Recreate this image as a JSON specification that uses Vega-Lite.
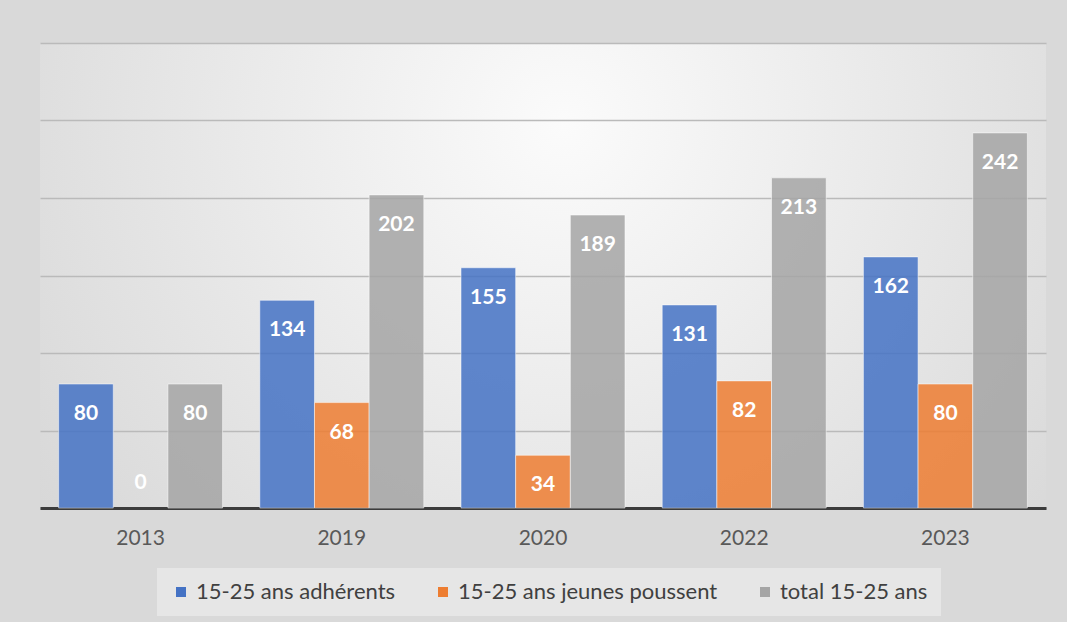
{
  "$schema": "https://vega.github.io/schema/vega-lite/v6.json",
  "width": 1006,
  "height": 465,
  "autosize": {"type": "none"},
  "padding": {"left": 40, "top": 43, "right": 21, "bottom": 114},
  "background": "#d9d9d9",
  "config": {
    "view": {
      "stroke": null,
      "fill": {
        "gradient": "radial",
        "x1": 0.52, "y1": 0.35, "r1": 0,
        "x2": 0.52, "y2": 0.35, "r2": 0.75,
        "stops": [
          {"offset": 0, "color": "#fbfbfb"},
          {"offset": 1, "color": "#d2d2d2"}
        ]
      }
    },
    "font": "Lato"
  },
  "data": {
    "values": [
      {"year": "2013", "series": "15-25 ans adhérents", "value": 80},
      {"year": "2013", "series": "15-25 ans jeunes poussent", "value": 0},
      {"year": "2013", "series": "total 15-25 ans", "value": 80},
      {"year": "2019", "series": "15-25 ans adhérents", "value": 134},
      {"year": "2019", "series": "15-25 ans jeunes poussent", "value": 68},
      {"year": "2019", "series": "total 15-25 ans", "value": 202},
      {"year": "2020", "series": "15-25 ans adhérents", "value": 155},
      {"year": "2020", "series": "15-25 ans jeunes poussent", "value": 34},
      {"year": "2020", "series": "total 15-25 ans", "value": 189},
      {"year": "2022", "series": "15-25 ans adhérents", "value": 131},
      {"year": "2022", "series": "15-25 ans jeunes poussent", "value": 82},
      {"year": "2022", "series": "total 15-25 ans", "value": 213},
      {"year": "2023", "series": "15-25 ans adhérents", "value": 162},
      {"year": "2023", "series": "15-25 ans jeunes poussent", "value": 80},
      {"year": "2023", "series": "total 15-25 ans", "value": 242}
    ]
  },
  "encoding": {
    "x": {
      "field": "year", "type": "nominal",
      "scale": {"paddingInner": 0.185, "paddingOuter": 0.0925},
      "axis": {
        "title": null, "labelAngle": 0, "ticks": false,
        "domainColor": "#3c3c3c", "domainWidth": 3,
        "labelFontSize": 21, "labelColor": "#595959", "labelPadding": 19,
        "labelFont": "Lato"
      }
    },
    "xOffset": {"field": "series", "type": "nominal", "scale": {"paddingInner": 0, "paddingOuter": 0}},
    "y": {
      "field": "value", "type": "quantitative",
      "scale": {"domain": [0, 300], "nice": false},
      "axis": {
        "title": null, "labels": false, "ticks": false, "domain": false,
        "values": [0, 50, 100, 150, 200, 250, 300],
        "gridColor": "#bababa", "gridWidth": 1.3
      }
    }
  },
  "layer": [
    {
      "transform": [{"filter": "datum.value > 0"}],
      "mark": {"type": "bar", "fillOpacity": 0.85, "stroke": "#ffffff", "strokeOpacity": 0.5, "strokeWidth": 1},
      "encoding": {
        "color": {
          "field": "series", "type": "nominal",
          "scale": {"domain": ["15-25 ans adhérents", "15-25 ans jeunes poussent", "total 15-25 ans"], "range": ["#4472C4", "#ED7D31", "#A5A5A5"]},
          "legend": {
            "title": null, "orient": "none", "direction": "horizontal",
            "legendX": 117, "legendY": 525,
            "symbolType": "square", "symbolSize": 100, "symbolStrokeWidth": 0,
            "labelFontSize": 22, "labelColor": "#404040", "labelFont": "Lato",
            "labelLimit": 500,
            "columnPadding": 36, "labelOffset": 4,
            "fillColor": "#e6e6e6", "padding": 13
          }
        }
      }
    },
    {
      "transform": [{"filter": "datum.value > 0"}],
      "mark": {"type": "text", "baseline": "middle", "dy": 30, "color": "white", "fontWeight": "bold", "fontSize": 21, "font": "Lato"},
      "encoding": {"text": {"field": "value", "type": "quantitative"}}
    },
    {
      "transform": [{"filter": "datum.value == 0"}],
      "mark": {"type": "text", "baseline": "middle", "dy": -25, "color": "white", "fontWeight": "bold", "fontSize": 21, "font": "Lato"},
      "encoding": {"text": {"field": "value", "type": "quantitative"}}
    }
  ]
}
